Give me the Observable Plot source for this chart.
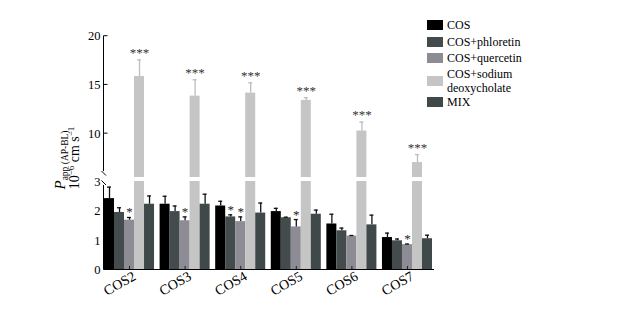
<!DOCTYPE html>
<html>
<head>
<meta charset="utf-8">
<script src="https://cdn.jsdelivr.net/npm/d3@7"></script>
<script src="https://cdn.jsdelivr.net/npm/@observablehq/plot@0.6"></script>
<style>
  html, body { margin: 0; padding: 0; background: #fff; }
  #chart { width: 618px; height: 311px; }
  #chart svg, #chart svg text, #chart svg tspan { font-family: "Liberation Serif", "DejaVu Serif", serif !important; }
</style>
</head>
<body>
<div id="chart"></div>
<script>
// ---- data ----
const groups = ["COS2", "COS3", "COS4", "COS5", "COS6", "COS7"];
const series = ["COS", "COS+phloretin", "COS+quercetin", "COS+sodium deoxycholate", "MIX"];
const seriesColors = ["#000000", "#434b4c", "#8d8c95", "#c5c5c5", "#404949"];

const cosVal = [2.42, 2.23, 2.17, 1.98, 1.56, 1.10];
const cosErr = [0.39, 0.27, 0.16, 0.11, 0.33, 0.15];
const phlVal = [1.95, 1.98, 1.80, 1.77, 1.33, 0.99];
const phlErr = [0.16, 0.19, 0.07, 0.02, 0.09, 0.06];
const queVal = [1.69, 1.67, 1.64, 1.46, 1.15, 0.86];
const queErr = [0.09, 0.13, 0.16, 0.25, 0.02, 0.02];
const sodVal = [15.87, 13.85, 14.16, 13.41, 10.27, 7.03];
const sodErr = [1.70, 1.68, 1.06, 0.28, 0.92, 0.82];
const mixVal = [2.23, 2.23, 1.93, 1.89, 1.53, 1.06];
const mixErr = [0.28, 0.34, 0.34, 0.14, 0.33, 0.12];

const cosStar = ["", "", "", "", "", ""];
const phlStar = ["", "", "*", "", "", ""];
const queStar = ["*", "*", "*", "*", "", "*"];
const sodStar = ["***", "***", "***", "***", "***", "***"];
const mixStar = ["", "", "", "", "", ""];

const yTicks = [0, 1, 2, 3, 10, 15, 20];

// ---- table ----
const vals = [cosVal, phlVal, queVal, sodVal, mixVal];
const errs = [cosErr, phlErr, queErr, sodErr, mixErr];
const stars = [cosStar, phlStar, queStar, sodStar, mixStar];
const rows = [];
groups.forEach((g, gi) => {
  series.forEach((s, si) => {
    rows.push({group: g, series: s, value: vals[si][gi], err: errs[si][gi], star: stars[si][gi]});
  });
});
const sodium = series[3];
const darkRows = rows.filter(d => d.series !== sodium);
const lightRows = rows.filter(d => d.series === sodium);

const fontFam = "Liberation Serif, DejaVu Serif, serif";

const plot = Plot.plot({
  width: 618,
  height: 311,
  marginLeft: 104,
  marginRight: 186,
  marginTop: 36,
  marginBottom: 41.5,
  style: {fontFamily: fontFam, fontSize: "12px", color: "#000", background: "#fff"},
  fx: {domain: groups, paddingInner: 0.1, paddingOuter: 0, round: false, label: null},
  x: {domain: series, padding: 0, round: false, axis: null},
  y: {type: "linear", domain: [0, 3, 5.5, 20], range: [269.5, 181, 177, 35.7], axis: null},
  color: {domain: series, range: seriesColors},
  marks: [
    Plot.barY(rows, {fx: "group", x: "series", y: "value", fill: "series"}),
    // error bars
    Plot.ruleX(darkRows, {fx: "group", x: "series", y1: "value", y2: d => d.value + d.err, stroke: "#111", strokeWidth: 1.3}),
    Plot.tickY(darkRows, {fx: "group", x: "series", y: d => d.value + d.err, stroke: "#111", strokeWidth: 1.3, insetLeft: 3, insetRight: 3}),
    Plot.ruleX(lightRows, {fx: "group", x: "series", y1: "value", y2: d => d.value + d.err, stroke: "#bdbdbd", strokeWidth: 1.3}),
    Plot.tickY(lightRows, {fx: "group", x: "series", y: d => d.value + d.err, stroke: "#bdbdbd", strokeWidth: 1.3, insetLeft: 3, insetRight: 3}),
    // small lower stubs under quercetin bars
    Plot.ruleX(rows.filter(d => d.series === series[2]), {fx: "group", x: "series", y1: 0, y2: 0.12, stroke: "#222", strokeWidth: 1}),
    // significance stars
    Plot.text(darkRows.filter(d => d.star), {fx: "group", x: "series", y: d => d.value + d.err, text: "star", lineAnchor: "bottom", dy: -1, fontSize: 13, fill: "#222"}),
    Plot.text(lightRows.filter(d => d.star), {fx: "group", x: "series", y: d => d.value + d.err, text: "star", lineAnchor: "bottom", dy: -3, fontSize: 13, fill: "#333"}),
    Plot.axisFx({anchor: "bottom", tickRotate: -30, tickSize: 0, tickPadding: 5, dx: 5, fontSize: 14, label: null}),
    Plot.axisY({ticks: yTicks, tickSize: 0, tickPadding: 4, fontSize: 12.5, label: null})
  ]
});

document.getElementById("chart").appendChild(plot);

// ---- decorations: axis break, axis lines, y label, legend ----
const y = plot.scale("y");
const svg = d3.select(plot);
const x0 = 103.5, xEnd = 434;

// white gap (axis break) across bars
svg.append("rect")
  .attr("x", x0 + 0.5).attr("width", xEnd - x0)
  .attr("y", y.apply(5.5)).attr("height", y.apply(3) - y.apply(5.5))
  .attr("fill", "#fff");

const axisG = svg.append("g").attr("stroke", "#000").attr("stroke-width", 1).attr("fill", "none");
// y axis, upper and lower part
axisG.append("line").attr("x1", x0).attr("x2", x0).attr("y1", y.apply(20)).attr("y2", y.apply(5.5) - 6);
axisG.append("line").attr("x1", x0).attr("x2", x0).attr("y1", y.apply(3) + 4).attr("y2", y.apply(0));
// break slashes
axisG.append("line").attr("x1", x0 - 2).attr("y1", y.apply(5.5) - 6).attr("x2", x0 + 2.5).attr("y2", y.apply(5.5) - 1.5);
axisG.append("line").attr("x1", x0 - 2).attr("y1", y.apply(3) - 0.5).attr("x2", x0 + 2.5).attr("y2", y.apply(3) + 4);
// inward ticks on the upper part
[10, 15, 20].forEach(v => {
  axisG.append("line").attr("x1", x0).attr("x2", x0 + 4).attr("y1", y.apply(v)).attr("y2", y.apply(v));
});
// x axis line
axisG.append("line").attr("x1", x0).attr("x2", xEnd).attr("y1", y.apply(0)).attr("y2", y.apply(0));

// y label
const l1 = svg.append("text")
  .attr("transform", "translate(65,160) rotate(-90)")
  .attr("text-anchor", "middle").attr("font-family", fontFam).attr("fill", "#000");
l1.append("tspan").attr("font-style", "italic").attr("font-size", 15).text("P");
l1.append("tspan").attr("font-size", 9.5).attr("dy", 3).text("app (AP-BL)");
const l2 = svg.append("text")
  .attr("transform", "translate(79,158) rotate(-90)")
  .attr("text-anchor", "middle").attr("font-family", fontFam).attr("font-size", 14).attr("fill", "#000");
l2.append("tspan").text("10");
l2.append("tspan").attr("font-size", 9).attr("dy", -5).text("−6");
l2.append("tspan").attr("dy", 5).text(" cm s");
l2.append("tspan").attr("font-size", 9).attr("dy", -5).text("−1");

// legend
const color = plot.scale("color");
const legendRows = [
  {s: series[0], cy: 25, lines: ["COS"]},
  {s: series[1], cy: 42, lines: ["COS+phloretin"]},
  {s: series[2], cy: 58, lines: ["COS+quercetin"]},
  {s: series[3], cy: 81, lines: ["COS+sodium", "deoxycholate"]},
  {s: series[4], cy: 102, lines: ["MIX"]}
];
const lg = svg.append("g").attr("font-family", fontFam).attr("font-size", 12).attr("fill", "#000").attr("text-anchor", "start");
legendRows.forEach(r => {
  lg.append("rect").attr("x", 427).attr("y", r.cy - 5).attr("width", 16).attr("height", 10).attr("fill", color.apply(r.s));
  const n = r.lines.length;
  r.lines.forEach((ln, i) => {
    lg.append("text").attr("x", 447).attr("y", r.cy + (i - (n - 1) / 2) * 13.5).attr("dy", "0.35em").text(ln);
  });
});
</script>
</body>
</html>
